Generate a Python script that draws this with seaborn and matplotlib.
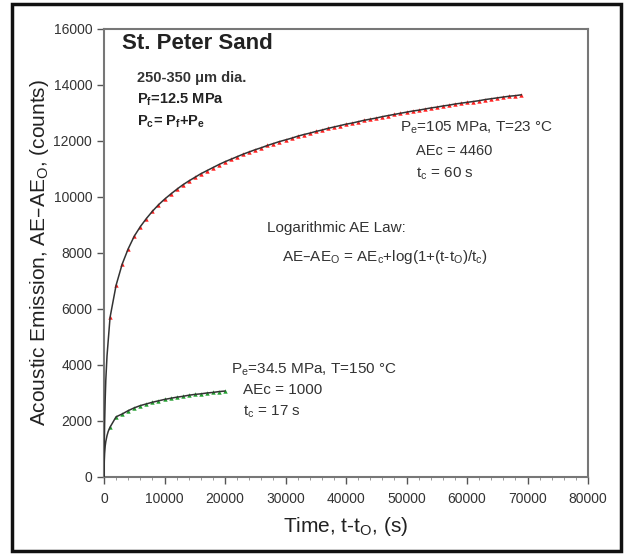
import numpy as np
import pandas as pd
import matplotlib
matplotlib.use("Agg")
import matplotlib.pyplot as plt
import seaborn as sns
from matplotlib.patches import Rectangle
from matplotlib.ticker import MultipleLocator

t_red = list(range(1000, 70000, 1000))
ae_red = [5700, 6850, 7600, 8150, 8600, 8940, 9230, 9490, 9720, 9920,
          10100, 10270, 10430, 10570, 10700, 10830, 10940, 11050, 11160, 11260,
          11350, 11440, 11530, 11610, 11690, 11760, 11840, 11910, 11980, 12040,
          12100, 12170, 12230, 12280, 12340, 12390, 12450, 12500, 12550, 12600,
          12640, 12690, 12740, 12780, 12820, 12870, 12910, 12950, 12990, 13030,
          13070, 13100, 13140, 13180, 13210, 13250, 13280, 13320, 13350, 13380,
          13410, 13440, 13480, 13510, 13540, 13570, 13600, 13620, 13650]

t_green = [0] + list(range(1000, 21000, 1000))
ae_green = [0, 1780, 2150, 2250, 2370, 2470, 2550, 2610, 2670, 2720, 2770,
            2810, 2850, 2880, 2920, 2950, 2970, 3000, 3020, 3050, 3070]

# fitted log-law curves (black lines)
t_fit_red = [0, 20, 50, 100, 200, 300, 500, 700] + t_red
ae_fit_red = [0, 650, 1250, 1900, 2800, 3470, 4330, 4880] + ae_red
t_fit_green = [0, 20, 50, 100, 200, 300, 500, 700] + t_green[1:]
ae_fit_green = [0, 340, 600, 840, 1110, 1270, 1480, 1630] + ae_green[1:]

red = pd.DataFrame({"t": t_red, "ae": ae_red})
green = pd.DataFrame({"t": t_green, "ae": ae_green})

sns.set_style("ticks")
plt.rcParams['font.family'] = ['Liberation Sans', 'DejaVu Sans']

fig = plt.figure(figsize=(6.26, 5.54), dpi=100)
ax = fig.add_axes([104/626, 1-477/554, (588-104)/626, (477-29)/554])

sns.scatterplot(data=red, x="t", y="ae", ax=ax, color="#ff2020", marker="^",
                s=10, linewidth=0, zorder=2)
sns.scatterplot(data=green, x="t", y="ae", ax=ax, color="#22a030", marker="^",
                s=10, linewidth=0, zorder=2)
ax.plot(t_fit_red, ae_fit_red, color="#333333", lw=1.1, zorder=3)
ax.plot(t_fit_green, ae_fit_green, color="#333333", lw=1.1, zorder=3)

ax.set_xlim(0, 80000)
ax.set_ylim(0, 16000)
ax.set_xticks(range(0, 80001, 10000))
ax.set_yticks(range(0, 16001, 2000))
ax.xaxis.set_minor_locator(MultipleLocator(2000))
ax.tick_params(axis="both", which="major", direction="out", length=5,
               width=1, color="#555555", labelsize=10, labelcolor="#333333")
ax.tick_params(axis="x", which="major", pad=6)
ax.tick_params(axis="x", which="minor", direction="out", length=2.5, color="#888888")
for sp in ax.spines.values():
    sp.set_color("#777777")
    sp.set_linewidth(1.5)

ax.set_xlabel("Time, t-t$_\\mathregular{O}$, (s)", fontsize=15, color="#222222", labelpad=6)
ax.set_ylabel("Acoustic Emission, AE\u2013AE$_\\mathregular{O}$, (counts)",
              fontsize=15, color="#222222", labelpad=2)

ax.text(3000, 15300, "St. Peter Sand", fontsize=16, fontweight="bold", color="#222222")
ax.text(5500, 14100, "250-350 \u03bcm dia.", fontsize=10.5, fontweight="bold", color="#333333")
ax.text(5500, 13350, "P$_\\mathregular{f}$=12.5 MPa", fontsize=10.5, fontweight="bold", color="#222222")
ax.text(5500, 12550, "P$_\\mathregular{c}$= P$_\\mathregular{f}$+P$_\\mathregular{e}$",
        fontsize=10.5, fontweight="bold", color="#222222")

ax.text(49000, 12350, "P$_\\mathregular{e}$=105 MPa, T=23 \u00b0C", fontsize=11, color="#333333")
ax.text(51500, 11500, "AEc = 4460", fontsize=10.5, color="#333333")
ax.text(51500, 10700, "t$_\\mathregular{c}$ = 60 s", fontsize=11, color="#333333")

ax.text(27000, 8750, "Logarithmic AE Law:", fontsize=11, color="#333333")
ax.text(29500, 7700, "AE\u2013AE$_\\mathregular{O}$ = AE$_\\mathregular{c}$+log(1+(t-t$_\\mathregular{O}$)/t$_\\mathregular{c}$)",
        fontsize=11, color="#333333")

ax.text(21000, 3700, "P$_\\mathregular{e}$=34.5 MPa, T=150 \u00b0C", fontsize=11, color="#333333")
ax.text(23000, 2950, "AEc = 1000", fontsize=11, color="#333333")
ax.text(23000, 2200, "t$_\\mathregular{c}$ = 17 s", fontsize=11, color="#333333")

# outer frame around the whole figure
fig.patches.append(Rectangle((12/626, 3/554), (621-12)/626, (550-3)/554,
                             transform=fig.transFigure, fill=False,
                             edgecolor="#111111", linewidth=2.5))

fig.savefig("out.png", dpi=100)
